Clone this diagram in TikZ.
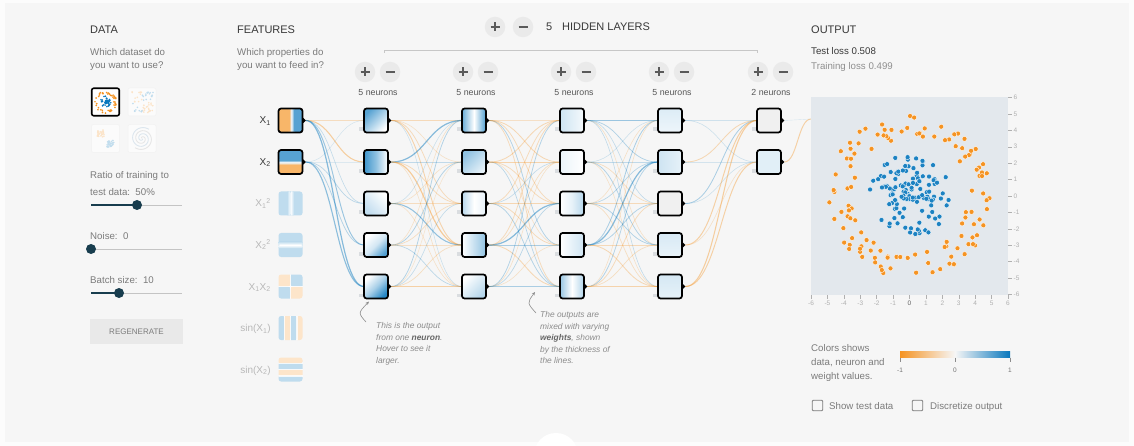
\documentclass[tikz,border=0pt]{standalone}
\usepackage{fontspec}
\setmainfont{Liberation Sans}
\usetikzlibrary{calc,arrows.meta}

\definecolor{pgOrange}{HTML}{F59322}
\definecolor{pgBlue}{HTML}{0877BD}
\definecolor{outerbg}{HTML}{FCFCFC}
\definecolor{panelbg}{HTML}{F6F6F6}
\definecolor{titlecol}{HTML}{383838}
\definecolor{subcol}{HTML}{7B7B7B}
\definecolor{faintcol}{HTML}{B8B8B8}
\definecolor{slidercol}{HTML}{183D4E}
\definecolor{trackcol}{HTML}{C4C4C4}
\definecolor{btnbg}{HTML}{EAEAEA}
\definecolor{btnfg}{HTML}{5A5A5A}
\definecolor{heatbg}{HTML}{E3E8ED}
\definecolor{biascol}{HTML}{DADDE0}
\definecolor{notecol}{HTML}{8C8C8C}
\definecolor{noteboldcol}{HTML}{666666}
\definecolor{tickcol}{HTML}{B0B0B0}
\definecolor{regenbg}{HTML}{E9E9E9}
\definecolor{spiralA}{HTML}{DCE6EE}
\definecolor{spiralB}{HTML}{E6E6E6}
\colorlet{orA}{pgOrange!68!white}
\colorlet{blA}{pgBlue!68!white}
\colorlet{orF}{pgOrange!24!white}
\colorlet{blF}{pgBlue!26!white}
\colorlet{midA}{white!92!pgBlue}

\pgfdeclarelayer{backdrop}
\pgfdeclarelayer{wires}
\pgfsetlayers{backdrop,wires,main}

% ---------- feature thumbnails (drawn relative to the box centre) ----------
\newcommand\patXone{%
  \fill[orA] (-13,-13) rectangle (-1.5,13);
  \shade[left color=orA, right color=midA] (-1.5,-13) rectangle (1,13);
  \shade[left color=midA, right color=blA] (1,-13) rectangle (3.5,13);
  \fill[blA] (3.5,-13) rectangle (13,13);}
\newcommand\patXtwo{%
  \fill[blA] (-13,-13) rectangle (13,-2);
  \shade[top color=blA, bottom color=midA] (-13,-2) rectangle (13,0.5);
  \shade[top color=midA, bottom color=orA] (-13,0.5) rectangle (13,3);
  \fill[orA] (-13,3) rectangle (13,13);}
\newcommand\patXoneSq{%
  \fill[blF] (-13,-13) rectangle (13,13);
  \shade[left color=blF, right color=white] (-3.5,-13) rectangle (0,13);
  \shade[left color=white, right color=blF] (0,-13) rectangle (3.5,13);}
\newcommand\patXtwoSq{%
  \fill[blF] (-13,-13) rectangle (13,13);
  \shade[top color=blF, bottom color=white] (-13,-3.5) rectangle (13,0);
  \shade[top color=white, bottom color=blF] (-13,0) rectangle (13,3.5);}
\newcommand\patXprod{%
  \fill[orF] (-13,-13) rectangle (0,0);
  \fill[blF] (0,-13) rectangle (13,0);
  \fill[blF] (-13,0) rectangle (0,13);
  \fill[orF] (0,0) rectangle (13,13);
  \draw[white, line width=1.6pt, opacity=0.8] (-13,0) -- (13,0) (0,-13) -- (0,13);}
\newcommand\patSinOne{%
  \fill[blF] (-13,-13) rectangle (-6.3,13);
  \fill[orF] (-6.3,-13) rectangle (0,13);
  \fill[blF] (0,-13) rectangle (6.3,13);
  \fill[orF] (6.3,-13) rectangle (13,13);
  \draw[white, line width=1.4pt, opacity=0.8] (-6.3,-13) -- (-6.3,13) (0,-13) -- (0,13) (6.3,-13) -- (6.3,13);}
\newcommand\patSinTwo{%
  \fill[orF] (-13,-13) rectangle (13,-6.3);
  \fill[blF] (-13,-6.3) rectangle (13,0);
  \fill[orF] (-13,0) rectangle (13,6.3);
  \fill[blF] (-13,6.3) rectangle (13,13);
  \draw[white, line width=1.4pt, opacity=0.8] (-13,-6.3) -- (13,-6.3) (-13,0) -- (13,0) (-13,6.3) -- (13,6.3);}

% ---------- a neuron: shaded box, output port and bias marker ----------
\newcommand\neu[4]{%
  \node[neuron,#4] (#1) at (#2,#3) {};
  \fill ($(#1.east)+(0,-3.2)$) -- ($(#1.east)+(3.4,0)$) -- ($(#1.east)+(0,3.2)$) -- cycle;
  \fill[biascol] ($(#1.south west)+(-4.6,-5)$) rectangle ++(3.8,3.8);}

% ---------- a weighted link: colour by sign, strength by magnitude ----------
\newcommand\wire[3]{%
  \pgfmathsetmacro\wabs{abs(#3)}%
  \pgfmathsetmacro\wop{0.10+0.62*\wabs}%
  \pgfmathsetmacro\wlw{0.3+1.5*\wabs}%
  \ifdim #3pt<0pt\relax\def\wcol{pgOrange}\else\def\wcol{pgBlue}\fi
  \draw[color=\wcol, opacity=\wop, line width=\wlw pt] #1 .. controls +(\wdx,0) and +(-\wdx,0) .. #2;}
\newcommand\layerwires[4]{%
  \def\wdx{#3}%
  \foreach \s/\t/\w in {#4}{\wire{($(#1\s.east)+(3.4,0)$)}{(#2\t.west)}{\w}}}

\newcommand\plusmark[1]{\draw[btnfg, line width=1.1pt] ($(#1)+(-4.5,0)$) -- ($(#1)+(4.5,0)$) ($(#1)+(0,-4.5)$) -- ($(#1)+(0,4.5)$);}
\newcommand\minusmark[1]{\draw[btnfg, line width=1.1pt] ($(#1)+(-4.5,0)$) -- ($(#1)+(4.5,0)$);}

\begin{document}
\begin{tikzpicture}[x=1pt, y=-1pt,
  ttl/.style={anchor=base west, inner sep=0pt, text=titlecol, font=\fontsize{11}{13}\selectfont},
  subtxt/.style={anchor=base west, inner sep=0pt, text=subcol, font=\fontsize{9.7}{12}\selectfont},
  notetxt/.style={anchor=base west, inner sep=0pt, text=notecol, font=\fontsize{8.4}{10}\selectfont\itshape},
  featlab/.style={anchor=base east, inner sep=0pt, font=\fontsize{10}{12}\selectfont},
  layerlab/.style={anchor=base, inner sep=0pt, text=titlecol!85, font=\fontsize{8.8}{10}\selectfont},
  axlab/.style={inner sep=0pt, text=tickcol, font=\fontsize{6.5}{8}\selectfont},
  neuron/.style={draw=black, line width=1.7pt, rounded corners=2.6pt, minimum size=24pt, inner sep=0pt, outer sep=0pt},
  featbox/.style={minimum size=24pt, inner sep=0pt, outer sep=0pt, rounded corners=2.6pt},
  pmbtn/.style={circle, fill=btnbg, minimum size=20.5pt, inner sep=0pt},
  knob/.style={circle, fill=slidercol, minimum size=10pt, inner sep=0pt},
  thumbsel/.style={draw=black, line width=1.6pt, rounded corners=2pt, fill=white, minimum size=27.5pt, inner sep=0pt},
  thumbdim/.style={draw=black!5, line width=0.5pt, rounded corners=2pt, fill=white!55!panelbg, minimum size=28pt, inner sep=0pt},
  chkbox/.style={draw=subcol, line width=0.8pt, rounded corners=1pt, minimum size=10.5pt, inner sep=0pt},
]
\useasboundingbox (0,0) rectangle (1134,446);
\begin{pgfonlayer}{backdrop}
  \fill[outerbg] (0,0) rectangle (1134,446);
  \fill[panelbg] (5,3) rectangle (1129,442);
\end{pgfonlayer}
\fill[white] (556,455) circle (22pt);

% ================= DATA column =================
\node[ttl] (dataT) at (90,34) {DATA};
\node[subtxt] (dataQa) at (90,56) {Which dataset do};
\node[subtxt] (dataQb) at (90,69) {you want to use?};

\node[thumbsel] (ds1) at (105.5,102) {};
\node[thumbdim] (ds2) at (142,102) {};
\node[thumbdim] (ds3) at (105.5,138.5) {};
\node[thumbdim] (ds4) at (142,138.5) {};

\pgfmathsetseed{17}
\foreach \k in {1,...,45}{
  \pgfmathsetmacro\rr{5.8*rnd}\pgfmathsetmacro\aa{360*rnd}
  \fill[pgBlue] ($(ds1)+({\rr*cos(\aa)},{\rr*sin(\aa)})$) circle (0.95pt);}
\foreach \k in {1,...,45}{
  \pgfmathsetmacro\rr{8.2+3.0*rnd}\pgfmathsetmacro\aa{360*rnd}
  \fill[pgOrange] ($(ds1)+({\rr*cos(\aa)},{\rr*sin(\aa)})$) circle (0.95pt);}
\foreach \k in {1,...,60}{
  \pgfmathsetmacro\xx{-11+22*rnd}\pgfmathsetmacro\yy{-11+22*rnd}
  \pgfmathsetmacro\pp{\xx*\yy}
  \ifdim \pp pt<0pt\relax\def\dcol{pgBlue!25!white}\else\def\dcol{pgOrange!25!white}\fi
  \fill[\dcol] ($(ds2)+(\xx,\yy)$) circle (0.9pt);}
\foreach \k in {1,...,30}{
  \pgfmathsetmacro\xx{-5+3.5*rand}\pgfmathsetmacro\yy{-5+3.5*rand}
  \fill[pgOrange!25!white] ($(ds3)+(\xx,\yy)$) circle (0.9pt);
  \pgfmathsetmacro\xx{5+3.5*rand}\pgfmathsetmacro\yy{5+3.5*rand}
  \fill[pgBlue!25!white] ($(ds3)+(\xx,\yy)$) circle (0.9pt);}
\begin{scope}[shift={(ds4.center)}]
  \draw[spiralA, line width=0.9pt] plot[domain=0.5:11.5, samples=70, variable=\t] ({\t*cos(\t*58)},{\t*sin(\t*58)});
  \draw[spiralB, line width=0.9pt] plot[domain=0.5:11.5, samples=70, variable=\t] ({-\t*cos(\t*58)},{-\t*sin(\t*58)});
\end{scope}

\node[subtxt] (ratioA) at (90,179) {Ratio of training to};
\node[subtxt] (ratioB) at (90,196) {test data:\ \ 50\%};
\coordinate (s1a) at (91,205); \coordinate (s1b) at (182,205); \coordinate (s1k) at (137,205);
\draw[trackcol, line width=0.8pt] (s1k) -- (s1b);
\draw[slidercol, line width=1.6pt] (s1a) -- (s1k);
\node[knob] (knob1) at (s1k) {};

\node[subtxt] (noiseT) at (90,240) {Noise:\ \ 0};
\coordinate (s2a) at (91,249); \coordinate (s2b) at (182,249);
\draw[trackcol, line width=0.8pt] (s2a) -- (s2b);
\node[knob] (knob2) at (s2a) {};

\node[subtxt] (batchT) at (90,283) {Batch size:\ \ 10};
\coordinate (s3a) at (91,293); \coordinate (s3b) at (182,293); \coordinate (s3k) at (119,293);
\draw[trackcol, line width=0.8pt] (s3k) -- (s3b);
\draw[slidercol, line width=1.6pt] (s3a) -- (s3k);
\node[knob] (knob3) at (s3k) {};

\node[fill=regenbg, minimum width=93pt, minimum height=25pt, inner sep=0pt, text=subcol,
      font=\fontsize{8}{10}\selectfont] (regen) at (136.5,331.5) {REGENERATE};

% ================= FEATURES column =================
\node[ttl] (featT) at (237,34) {FEATURES};
\node[subtxt] (featQa) at (237,56) {Which properties do};
\node[subtxt] (featQb) at (237,69) {you want to feed in?};

\node[featbox, draw=black, line width=1.7pt, path picture={\begin{scope}[shift={(path picture bounding box.center)}]\patXone\end{scope}}] (f1) at (290.5,120.5) {};
\node[featbox, draw=black, line width=1.7pt, path picture={\begin{scope}[shift={(path picture bounding box.center)}]\patXtwo\end{scope}}] (f2) at (290.5,162) {};
\node[featbox, path picture={\begin{scope}[shift={(path picture bounding box.center)}]\patXoneSq\end{scope}}] (f3) at (290.5,203.5) {};
\node[featbox, path picture={\begin{scope}[shift={(path picture bounding box.center)}]\patXtwoSq\end{scope}}] (f4) at (290.5,245) {};
\node[featbox, path picture={\begin{scope}[shift={(path picture bounding box.center)}]\patXprod\end{scope}}] (f5) at (290.5,286.5) {};
\node[featbox, path picture={\begin{scope}[shift={(path picture bounding box.center)}]\patSinOne\end{scope}}] (f6) at (290.5,328) {};
\node[featbox, path picture={\begin{scope}[shift={(path picture bounding box.center)}]\patSinTwo\end{scope}}] (f7) at (290.5,369.5) {};
\foreach \f in {f1,f2}{
  \fill ($(\f.east)+(0,-3.2)$) -- ($(\f.east)+(3.4,0)$) -- ($(\f.east)+(0,3.2)$) -- cycle;}

\node[featlab, text=titlecol] (fl1) at (271,124) {X\textsubscript{1}};
\node[featlab, text=titlecol] (fl2) at (271,165.5) {X\textsubscript{2}};
\node[featlab, text=faintcol] (fl3) at (271,207) {X\textsubscript{1}\textsuperscript{2}};
\node[featlab, text=faintcol] (fl4) at (271,248.5) {X\textsubscript{2}\textsuperscript{2}};
\node[featlab, text=faintcol] (fl5) at (271,290) {X\textsubscript{1}X\textsubscript{2}};
\node[featlab, text=faintcol] (fl6) at (271,331.5) {sin(X\textsubscript{1})};
\node[featlab, text=faintcol] (fl7) at (271,373) {sin(X\textsubscript{2})};

% ================= HIDDEN LAYERS =================
\node[pmbtn] (addLayer) at (495,27) {}; \plusmark{addLayer}
\node[pmbtn] (delLayer) at (523,27) {}; \minusmark{delLayer}
\node[ttl] (nLayers) at (546,31) {5};
\node[ttl] (hiddenT) at (562,31) {HIDDEN LAYERS};
\coordinate (brL) at (384,53); \coordinate (brR) at (757,53);
\draw[black!22, line width=0.6pt] (brL) -- ++(0,-3) -| (brR);

\foreach \i/\c/\n in {1/376/5, 2/474/5, 3/572/5, 4/670/5, 5/769/2}{
  \node[pmbtn] (add\i) at (\c-11,72) {}; \plusmark{add\i}
  \node[pmbtn] (del\i) at (\c+14,72) {}; \minusmark{del\i}
  \node[layerlab] (cnt\i) at (\c+2,96) {\n\ neurons};}

% (middle color must follow left/right or top/bottom colour)
\neu{h11}{376}{120.5}{top color=pgBlue!68, bottom color=white, shading angle=45}
\neu{h12}{376}{162}{left color=pgBlue!78, right color=white, middle color=white!55!pgBlue}
\neu{h13}{376}{203.5}{top color=white, bottom color=pgBlue!25, shading angle=-45}
\neu{h14}{376}{245}{top color=white, bottom color=pgBlue!70, middle color=white!82!pgBlue, shading angle=45}
\neu{h15}{376}{286.5}{top color=white, bottom color=pgBlue!88, middle color=white!65!pgBlue, shading angle=45}

\neu{h21}{474}{120.5}{left color=pgBlue!60, right color=pgBlue!72, middle color=white}
\neu{h22}{474}{162}{top color=pgBlue!45, bottom color=pgBlue!10, shading angle=45}
\neu{h23}{474}{203.5}{left color=pgBlue!28, right color=white!90!pgBlue, middle color=white}
\neu{h24}{474}{245}{left color=white, right color=pgBlue!45}
\neu{h25}{474}{286.5}{top color=white, bottom color=pgBlue!30, shading angle=45}

\neu{h31}{572}{120.5}{left color=pgBlue!20, right color=white!96!pgBlue}
\neu{h32}{572}{162}{left color=white!92!pgBlue, right color=white}
\neu{h33}{572}{203.5}{left color=white, right color=pgBlue!30, middle color=white!90!pgBlue}
\neu{h34}{572}{245}{left color=white, right color=pgBlue!20}
\neu{h35}{572}{286.5}{left color=pgBlue!42, right color=pgBlue!32, middle color=white}

\neu{h41}{670}{120.5}{top color=pgBlue!14, bottom color=pgBlue!7}
\neu{h42}{670}{162}{left color=pgBlue!20, right color=pgBlue!10}
\neu{h43}{670}{203.5}{fill=white!94!black}
\neu{h44}{670}{245}{top color=pgBlue!16, bottom color=pgBlue!9}
\neu{h45}{670}{286.5}{top color=pgBlue!17, bottom color=pgBlue!10}

\neu{h51}{769}{120.5}{fill=white!94!black}
\neu{h52}{769}{162}{fill=white!88!pgBlue}

% ================= OUTPUT =================
\node[ttl] (outT) at (811,34) {OUTPUT};
\node[anchor=base west, inner sep=0pt, text=titlecol, font=\fontsize{9.7}{12}\selectfont] (testLoss) at (811,55) {Test loss 0.508};
\node[anchor=base west, inner sep=0pt, text=subcol!85, font=\fontsize{9.7}{12}\selectfont] (trainLoss) at (811,70) {Training loss 0.499};

\node[fill=heatbg, minimum size=197pt, inner sep=0pt, outer sep=0pt] (heatmap) at (909.5,196) {};
\coordinate (outIn) at (811,119);

\pgfmathsetseed{4242}
\foreach \k in {1,...,125}{
  \pgfmathsetmacro\rr{2.5*(rnd^0.7)}\pgfmathsetmacro\aa{360*rnd}
  \filldraw[fill=pgBlue!92!white, draw=white, line width=0.35pt] ($(heatmap.center)+({16.42*\rr*cos(\aa)},{16.42*\rr*sin(\aa)})$) circle (2.5pt);}
\foreach \k in {1,...,125}{
  \pgfmathsetmacro\rr{3.5+1.5*rnd}\pgfmathsetmacro\aa{360*rnd}
  \filldraw[fill=pgOrange, draw=white, line width=0.35pt] ($(heatmap.center)+({16.42*\rr*cos(\aa)},{16.42*\rr*sin(\aa)})$) circle (2.5pt);}

\foreach \v in {6,5,...,-6}{
  \draw[tickcol, line width=0.4pt] (1008,196-16.42*\v) -- (1012,196-16.42*\v);
  \node[axlab, anchor=west] (ry\v) at (1013.5,196-16.42*\v) {\v};
  \draw[tickcol, line width=0.4pt] (909.5+16.42*\v,295) -- (909.5+16.42*\v,299);}
\foreach \v in {6,5,...,1,-1,-2,...,-6}{
  \node[axlab, anchor=north] (rx\v) at (909.5+16.42*\v,300.5) {\v};}
\node[axlab, anchor=north, text=titlecol!80] (rx0) at (909.5,300.5) {0};

% colour legend
\node[subtxt] (legA) at (811,351) {Colors shows};
\node[subtxt] (legB) at (811,365) {data, neuron and};
\node[subtxt] (legC) at (811,379) {weight values.};
\shade[left color=pgOrange, right color=pgBlue, middle color=white!93!gray] (900,351) rectangle (1010,357.5);
\coordinate (lgL) at (900,357.5); \coordinate (lgM) at (955,357.5); \coordinate (lgR) at (1010,357.5);
\foreach \p in {lgL,lgM,lgR}{\draw[black!45, line width=0.5pt] (\p) -- ++(0,4.5);}
\node[axlab, anchor=base, text=black!55] (lgLab1) at (900,372) {-1};
\node[axlab, anchor=base, text=black!55] (lgLab2) at (955,372) {0};
\node[axlab, anchor=base, text=black!55] (lgLab3) at (1010,372) {1};

\node[chkbox] (chk1) at (817.5,405.5) {};
\node[subtxt] (chk1T) at (829,409.5) {Show test data};
\node[chkbox] (chk2) at (917.5,405.5) {};
\node[subtxt] (chk2T) at (930,409.5) {Discretize output};

% ================= annotations =================
\coordinate (a1s) at (366,322); \coordinate (a1e) at (369,301.5);
\draw[notecol, line width=0.6pt, -{Stealth[length=3.5pt, width=3pt]}] (a1s) .. controls (358,313) .. (a1e);
\node[notetxt] (n1a) at (376,328) {This is the output};
\node[notetxt] (n1b) at (376,340) {from one {\bfseries\color{noteboldcol}neuron}.};
\node[notetxt] (n1c) at (376,351.5) {Hover to see it};
\node[notetxt] (n1d) at (376,363) {larger.};

\coordinate (a2s) at (536,313); \coordinate (a2e) at (535,292);
\draw[notecol, line width=0.6pt, -{Stealth[length=3.5pt, width=3pt]}] (a2s) .. controls (527,303) .. (a2e);
\node[notetxt] (n2a) at (540,317) {The outputs are};
\node[notetxt] (n2b) at (540,329) {mixed with varying};
\node[notetxt] (n2c) at (540,340.5) {{\bfseries\color{noteboldcol}weights}, shown};
\node[notetxt] (n2d) at (540,352) {by the thickness of};
\node[notetxt] (n2e) at (540,363.5) {the lines.};

% ================= weighted links =================
\begin{pgfonlayer}{wires}
\layerwires{f}{h1}{28}{1/1/-0.25, 1/2/-0.5, 1/3/0.2, 1/4/0.45, 1/5/0.6,
  2/1/0.1, 2/2/0.1, 2/3/0.25, 2/4/0.3, 2/5/0.55}
\layerwires{h1}{h2}{34.5}{1/1/-0.3, 1/2/-0.2, 1/3/-0.3, 1/4/-0.4, 1/5/0.15,
  2/1/0.6, 2/2/0.2, 2/3/-0.3, 2/4/-0.55, 2/5/-0.2,
  3/1/0.15, 3/2/-0.2, 3/3/-0.25, 3/4/0.5, 3/5/-0.2,
  4/1/-0.2, 4/2/0.3, 4/3/-0.25, 4/4/-0.2, 4/5/0.25,
  5/1/0.3, 5/2/-0.15, 5/3/0.2, 5/4/-0.25, 5/5/-0.45}
\layerwires{h2}{h3}{34.5}{1/1/-0.2, 1/2/-0.35, 1/3/-0.3, 1/4/0.3, 1/5/-0.3,
  2/1/-0.35, 2/2/-0.4, 2/3/-0.3, 2/4/-0.2, 2/5/0.25,
  3/1/-0.3, 3/2/0.2, 3/3/-0.35, 3/4/-0.3, 3/5/0.3,
  4/1/-0.3, 4/2/-0.25, 4/3/0.6, 4/4/0.35, 4/5/-0.35,
  5/1/0.3, 5/2/-0.2, 5/3/0.25, 5/4/-0.2, 5/5/0.35}
\layerwires{h3}{h4}{34.5}{1/1/0.45, 1/2/0.3, 1/3/0.2, 1/4/-0.2, 1/5/0.2,
  2/1/0.15, 2/2/0.2, 2/3/-0.25, 2/4/0.3, 2/5/-0.2,
  3/1/-0.2, 3/2/0.25, 3/3/-0.3, 3/4/0.3, 3/5/-0.25,
  4/1/0.35, 4/2/0.6, 4/3/0.3, 4/4/-0.3, 4/5/-0.35,
  5/1/-0.2, 5/2/0.3, 5/3/-0.3, 5/4/-0.25, 5/5/-0.4}
\layerwires{h4}{h5}{34.5}{1/1/0.1, 1/2/0.15, 2/1/-0.35, 2/2/0.2,
  3/1/0.35, 3/2/0.15, 4/1/-0.45, 4/2/-0.2, 5/1/-0.5, 5/2/-0.45}
\def\wdx{13}
\wire{($(h51.east)+(3.4,0)$)}{(outIn)}{0.06}
\wire{($(h52.east)+(3.4,0)$)}{(outIn)}{-0.45}
\end{pgfonlayer}
\end{tikzpicture}
\end{document}
